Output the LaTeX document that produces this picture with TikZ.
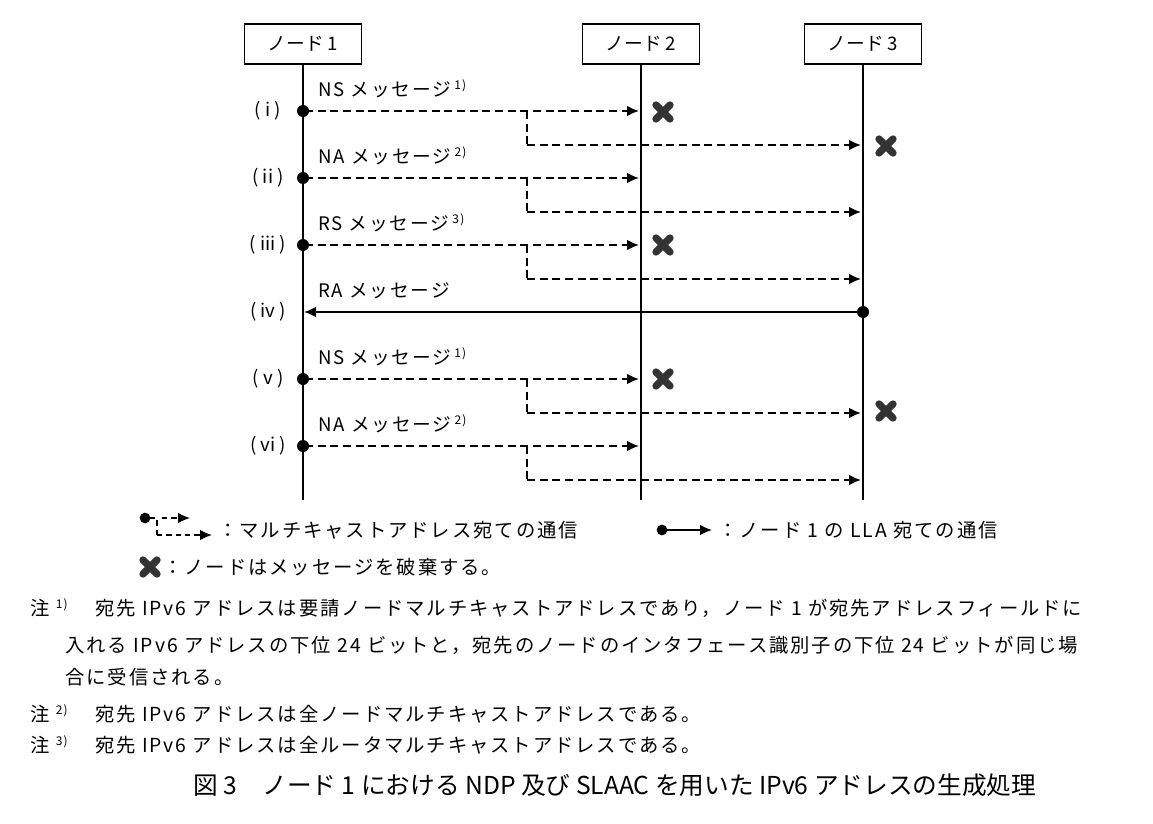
\documentclass[tikz,border=0pt]{standalone}
\usepackage{fontspec}
\setmainfont{Noto Sans CJK JP}
\newfontfamily\wide[LetterSpace=10]{Noto Sans CJK JP}
\usetikzlibrary{arrows.meta}
\newcommand{\nsup}[1]{\raisebox{5pt}{\fontsize{9}{10}\selectfont #1}}
\begin{document}
\begin{tikzpicture}[x=0.75pt,y=-0.75pt,
  box/.style={draw,line width=1pt,minimum width=88pt,minimum height=30pt,font=\fontsize{14}{16}\selectfont},
  life/.style={line width=1.2pt},
  msg/.style={dashed,dash pattern=on 6pt off 3.5pt,line width=1.4pt,-{Latex[length=9pt,width=8pt]}},
  bar/.style={dashed,dash pattern=on 6pt off 3.5pt,line width=1.4pt},
  sol/.style={line width=1.4pt,-{Latex[length=9pt,width=8pt]}},
  lab/.style={anchor=west,font=\wide\fontsize{14}{16}\selectfont,inner sep=0},
  rl/.style={font=\fontsize{14}{16}\selectfont,inner sep=0},
  txt/.style={anchor=west,font=\wide\fontsize{14.5}{16}\selectfont,inner sep=0},
  xm/.pic={\draw[line width=5.5pt,line cap=round,black!80] (-7,-7)--(7,7) (-7,7)--(7,-7);}]
\useasboundingbox (0,0) rectangle (1153,824);
\node[box] (n1) at (303,44) {ノード 1};
\node[box] (n2) at (641,44) {ノード 2};
\node[box] (n3) at (863,44) {ノード 3};
\coordinate (e1) at (303,500); \coordinate (e2) at (641,500); \coordinate (e3) at (863,500);
\draw[life] (n1)--(e1); \draw[life] (n2)--(e2); \draw[life] (n3)--(e3);
\foreach \yy/\rr/\tt/\ss in {111/( i )/NS/1),178/( ii )/NA/2),245/( iii )/RS/3),379/( v )/NS/1),446/( vi )/NA/2)}{
  \fill (303,\yy) circle (4.5pt);
  \draw[msg] (305,\yy) -- (639,\yy);
  \draw[bar] (527,\yy) -- (527,\yy+34);
  \draw[msg] (527,\yy+34) -- (861,\yy+34);
  \node[rl] at (268,\yy) {\rr};
  \node[lab] at (318,\yy-22) {\tt\ メッセージ\,\nsup{\ss}};
}
\node[rl] at (268,312) {( iv )};
\node[lab] at (318,291) {RA メッセージ};
\fill (863,312) circle (4.5pt);
\draw[sol] (863,312) -- (304,312);
\pic at (663,112) {xm}; \pic at (886,146) {xm};
\pic at (663,245) {xm};
\pic at (663,379) {xm}; \pic at (886,411) {xm};
% legend
\fill (145,518) circle (4pt);
\draw[bar,dash pattern=on 4pt off 3pt,line width=1.2pt] (150,518)--(157,518)--(157,535);
\draw[msg,dash pattern=on 4pt off 3pt,line width=1.2pt] (162,518)--(190,518);
\draw[msg,dash pattern=on 4pt off 3pt,line width=1.2pt] (157,535)--(212,535);
\node[txt] at (218,530) {：マルチキャストアドレス宛ての通信};
\fill (662,530) circle (4pt);
\draw[sol,line width=1.2pt] (662,530)--(712,530);
\node[txt] at (718,530) {：ノード 1 の LLA 宛ての通信};
\pic at (150,567) {xm};
\node[txt] at (163,567) {：ノードはメッセージを破棄する。};
% notes
\node[txt] at (30,608) {注 \nsup{1)}};
\node[txt] at (95,608) {宛先 IPv6 アドレスは要請ノードマルチキャストアドレスであり，ノード 1 が宛先アドレスフィールドに};
\node[txt] at (65,645) {入れる IPv6 アドレスの下位 24 ビットと，宛先のノードのインタフェース識別子の下位 24 ビットが同じ場};
\node[txt] at (65,677) {合に受信される。};
\node[txt] at (30,714) {注 \nsup{2)}};
\node[txt] at (95,714) {宛先 IPv6 アドレスは全ノードマルチキャストアドレスである。};
\node[txt] at (30,745) {注 \nsup{3)}};
\node[txt] at (95,745) {宛先 IPv6 アドレスは全ルータマルチキャストアドレスである。};
\node[font=\fontsize{18.5}{22}\selectfont,inner sep=0] (cap) at (615,785) {図 3\quad ノード 1 における NDP 及び SLAAC を用いた IPv6 アドレスの生成処理};
\end{tikzpicture}
\end{document}
